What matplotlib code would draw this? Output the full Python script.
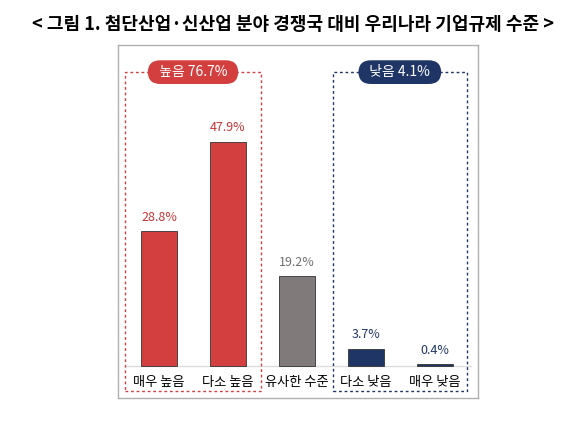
import matplotlib
matplotlib.use("Agg")
import matplotlib.pyplot as plt
from matplotlib.patches import Rectangle

plt.rcParams['font.family'] = ['Noto Sans CJK KR', 'DejaVu Sans']

categories = ["매우 높음", "다소 높음", "유사한 수준", "다소 낮음", "매우 낮음"]
values = [28.8, 47.9, 19.2, 3.7, 0.4]
colors = ["#d33f3f", "#d33f3f", "#807a7a", "#1f3566", "#1f3566"]
label_colors = ["#c83434", "#c83434", "#707070", "#1f3566", "#1f3566"]
high_label = "  높음 76.7%  "
low_label = "  낮음 4.1%  "
title = "< 그림 1. 첨단산업·신산업 분야 경쟁국 대비 우리나라 기업규제 수준 >"

W, H = 586, 441
fig = plt.figure(figsize=(W / 100, H / 100), dpi=100)
ax = fig.add_axes([118 / W, 1 - 398 / H, 360 / W, 353 / H])
ax.set_xlim(-0.594, 4.623)
ax.set_ylim(-6.84, 68.6)
for s in ax.spines.values():
    s.set_color("#b0b0b0")
    s.set_linewidth(1)
ax.set_xticks([])
ax.set_yticks([])

x = range(len(values))
ax.bar(x, values, width=0.52, color=colors, edgecolor="#333333", linewidth=0.6, zorder=3)
ax.axhline(0, color="#dddddd", lw=1, xmin=0.02, xmax=0.98, zorder=2)
for i, v in enumerate(values):
    ax.text(i, v + 1.6, f"{v}%", ha="center", va="bottom", fontsize=9,
            color=label_colors[i])
    ax.text(i, -3.6, categories[i], ha="center", va="center", fontsize=9.5, color="black")

ax.add_patch(Rectangle((-0.493, -5.34), 1.971, 68.14, fill=False, ls=(0, (2, 2)),
                       lw=1, edgecolor="#d33f3f", zorder=4))
ax.add_patch(Rectangle((2.52, -5.34), 1.94, 68.14, fill=False, ls=(0, (2, 2)),
                       lw=1, edgecolor="#1f3566", zorder=4))
ax.text(0.493, 62.8, high_label, ha="center", va="center", fontsize=10, color="white",
        zorder=5, bbox=dict(boxstyle="round,pad=0.35,rounding_size=0.9",
                            fc="#d33f3f", ec="none"))
ax.text(3.49, 62.8, low_label, ha="center", va="center", fontsize=10, color="white",
        zorder=5, bbox=dict(boxstyle="round,pad=0.35,rounding_size=0.9",
                            fc="#1f3566", ec="none"))

fig.text(0.5, 1 - 25 / H, title, ha="center", va="center", fontsize=13,
         fontweight="bold")
fig.savefig("out.png", dpi=100)
